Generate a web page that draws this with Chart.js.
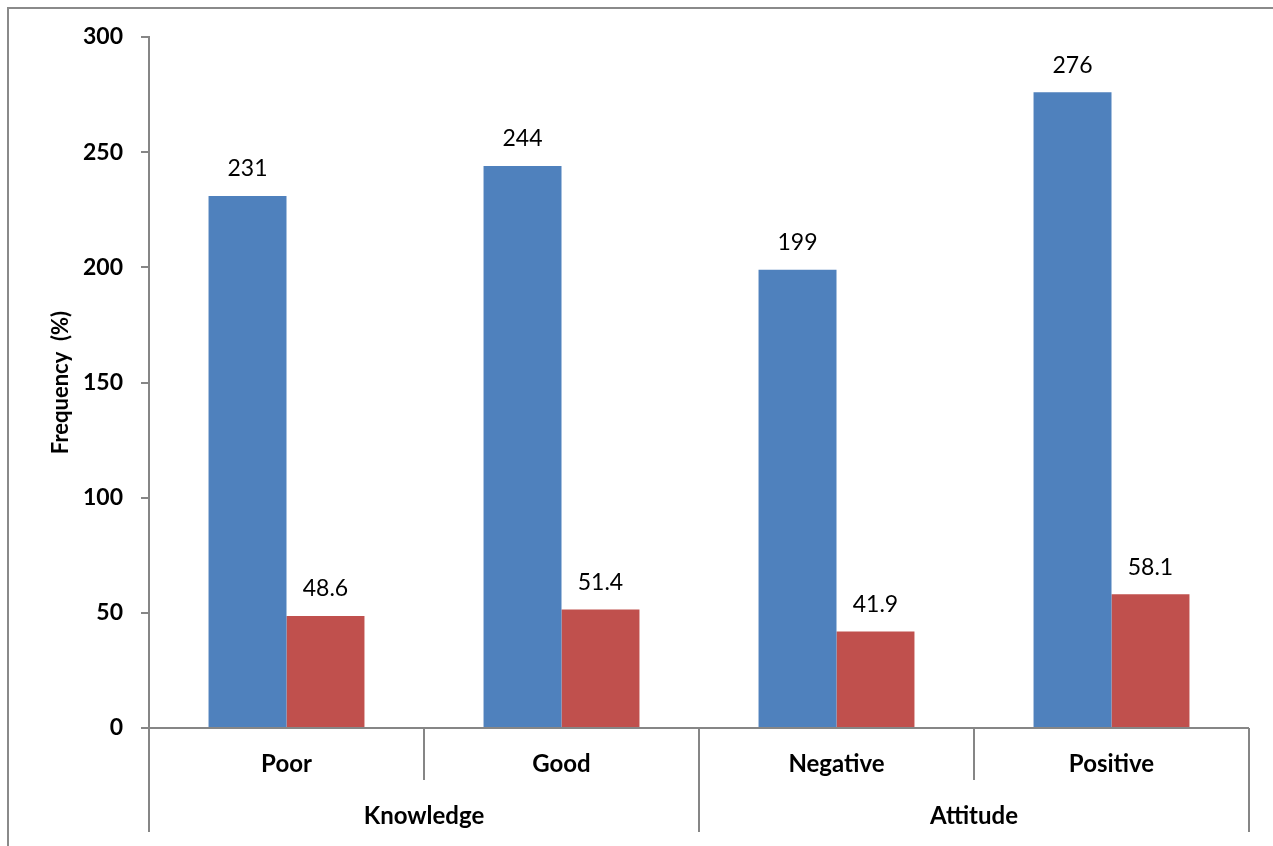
<!DOCTYPE html>
<html>
<head>
<meta charset="utf-8">
<script src="https://cdn.jsdelivr.net/npm/chart.js@4"></script>
<style>
  html, body { margin: 0; padding: 0; background: #fff; }
  #wrap { position: relative; width: 1273px; height: 846px; }
  #frame { position: absolute; left: 7px; top: 7px; right: -10px; bottom: -10px;
           border-top: 2px solid #8a8a8a; border-left: 2px solid #8a8a8a; pointer-events: none; }
  canvas { position: absolute; left: 0; top: 0; }
</style>
</head>
<body>
<div id="wrap">
  <canvas id="grafico" width="1273" height="846"></canvas>
  <div id="frame"></div>
</div>
<script>
// dados
const categorias = ["Poor", "Good", "Negative", "Positive"];
const grupos = ["Knowledge", "Attitude"];
const tamanhoGrupos = [2, 2];
const frequencia = [231, 244, 199, 276];
const percentual = [48.6, 51.4, 41.9, 58.1];
const ticksY = [0, 50, 100, 150, 200, 250, 300];

const corEixo = "#868686";
const fonte = "Lato, 'Open Sans', sans-serif";

// rótulos acima das barras
const rotulosBarras = {
  id: "rotulosBarras",
  afterDatasetsDraw(chart) {
    const ctx = chart.ctx;
    ctx.save();
    ctx.font = "23px " + fonte;
    ctx.fillStyle = "#000";
    ctx.textAlign = "center";
    ctx.textBaseline = "middle";
    chart.data.datasets.forEach((ds, i) => {
      chart.getDatasetMeta(i).data.forEach((barra, j) => {
        ctx.fillText(String(ds.data[j]), barra.x, barra.y - 27);
      });
    });
    ctx.restore();
  }
};

// eixo x com dois níveis (categoria / grupo)
const eixoDuplo = {
  id: "eixoDuplo",
  afterDraw(chart) {
    const ctx = chart.ctx;
    const x = chart.scales.x;
    const base = chart.chartArea.bottom;
    const meia = (x.getPixelForValue(1) - x.getPixelForValue(0)) / 2;
    const limite = i => x.getPixelForValue(i) - meia;

    ctx.save();
    ctx.strokeStyle = corEixo;
    ctx.lineWidth = 2;

    ctx.beginPath();
    ctx.moveTo(limite(0), base);
    ctx.lineTo(limite(categorias.length), base);
    ctx.stroke();

    const inicioGrupos = [0];
    tamanhoGrupos.forEach(t => inicioGrupos.push(inicioGrupos[inicioGrupos.length - 1] + t));

    for (let i = 0; i <= categorias.length; i++) {
      const fimLinha = inicioGrupos.includes(i) ? base + 104 : base + 52;
      ctx.beginPath();
      ctx.moveTo(Math.round(limite(i)), base);
      ctx.lineTo(Math.round(limite(i)), fimLinha);
      ctx.stroke();
    }

    ctx.fillStyle = "#000";
    ctx.font = "bold 24px " + fonte;
    ctx.textAlign = "center";
    ctx.textBaseline = "middle";
    categorias.forEach((c, i) => {
      ctx.fillText(c, x.getPixelForValue(i), base + 36);
    });
    grupos.forEach((g, k) => {
      const centro = (limite(inicioGrupos[k]) + limite(inicioGrupos[k + 1])) / 2;
      ctx.fillText(g, centro, base + 88);
    });
    ctx.restore();
  }
};

const ctx = document.getElementById("grafico").getContext("2d");

new Chart(ctx, {
  type: "bar",
  data: {
    labels: categorias,
    datasets: [
      {
        label: "Frequency",
        data: frequencia,
        backgroundColor: "#4F81BD",
        categoryPercentage: 0.567,
        barPercentage: 1.0
      },
      {
        label: "Percent",
        data: percentual,
        backgroundColor: "#C0504D",
        categoryPercentage: 0.567,
        barPercentage: 1.0
      }
    ]
  },
  options: {
    responsive: false,
    animation: false,
    layout: { padding: { top: 37, right: 24, bottom: 0, left: 0 } },
    plugins: {
      legend: { display: false },
      tooltip: { enabled: false }
    },
    scales: {
      x: {
        ticks: { display: false },
        grid: { display: false },
        border: { display: false },
        afterFit: scale => { scale.height = 118; }
      },
      y: {
        min: 0,
        max: 300,
        afterBuildTicks: scale => { scale.ticks = ticksY.map(v => ({ value: v })); },
        afterFit: scale => { scale.width = 149; },
        ticks: {
          color: "#000",
          padding: 18,
          font: { family: fonte, size: 23, weight: "bold" }
        },
        grid: {
          drawOnChartArea: false,
          drawTicks: true,
          tickLength: 8,
          color: corEixo,
          lineWidth: 2
        },
        border: { display: true, color: corEixo, width: 2 },
        title: {
          display: true,
          text: "Frequency  (%)",
          color: "#000",
          padding: { top: 48, bottom: 0 },
          font: { family: fonte, size: 22, weight: "bold" }
        }
      }
    }
  },
  plugins: [rotulosBarras, eixoDuplo]
});
</script>
</body>
</html>
